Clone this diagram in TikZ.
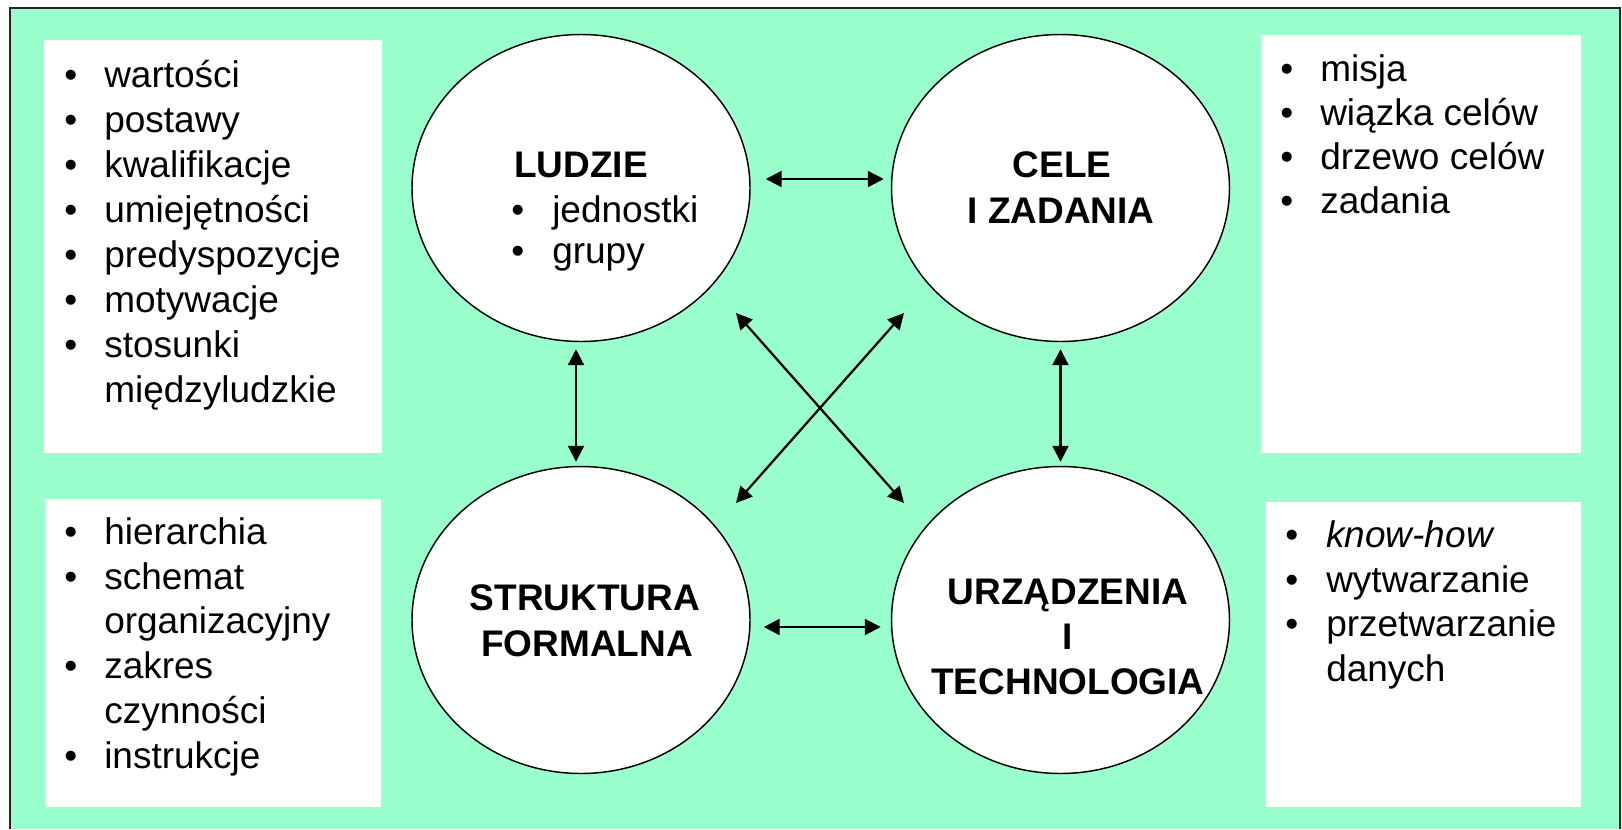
\documentclass[tikz,border=0pt]{standalone}
\usepackage{fontspec}
\setmainfont{Liberation Sans}
\usetikzlibrary{shapes.geometric,arrows.meta,calc}
\definecolor{mint}{RGB}{153,255,204}
\begin{document}
\begin{tikzpicture}[x=0.75pt,y=-0.75pt,
  oval/.style={ellipse,draw,line width=1.1pt,fill=white,minimum width=253.5pt,minimum height=230.25pt,inner sep=0pt},
  panel/.style={fill=white},
  txt/.style={anchor=base west,inner sep=0pt,font=\fontsize{27.75}{33}\selectfont},
  ctxt/.style={anchor=base,inner sep=0pt,font=\fontsize{27.75}{33}\selectfont\bfseries},
  arr/.style={line width=1.7pt,{Triangle[length=12pt,width=12pt]}-{Triangle[length=12pt,width=12pt]}}]
\useasboundingbox (0,0) rectangle (1622,829);
% background frame
\fill[mint] (10,8) rectangle (1621,829);
\draw[line width=1.6pt,draw=black!85] (10,829) -- (10,8) -- (1620,8) -- (1620,829);
% white panels
\fill[panel] (44,40) rectangle (382,453);
\fill[panel] (1261,35) rectangle (1581,453);
\fill[panel] (45,499) rectangle (381,807);
\fill[panel] (1266,502) rectangle (1581,807);
% ellipses
\node[oval] (L) at (581,188) {};
\node[oval] (C) at (1060.5,188) {};
\node[oval] (S) at (581,620) {};
\node[oval] (U) at (1060.5,620) {};
% ellipse texts
\node[txt,font=\fontsize{27.75}{33}\selectfont\bfseries] (Lt) at (514,177) {LUDZIE};
\node[txt] (Lb1) at (511,222) {•};
\node[txt] (Lj) at (552,222) {jednostki};
\node[txt] (Lb2) at (511,263) {•};
\node[txt] (Lg) at (552,263) {grupy};
\node[ctxt] (Ct1) at (1062,177) {CELE};
\node[ctxt] (Ct2) at (1061,223) {I ZADANIA};
\node[ctxt] (St1) at (585,610) {STRUKTURA};
\node[ctxt] (St2) at (587,656) {FORMALNA};
\node[ctxt] (Ut1) at (1068,604) {URZĄDZENIA};
\node[ctxt] (Ut2) at (1068,649) {I};
\node[ctxt] (Ut3) at (1068,694) {TECHNOLOGIA};
% connectors
\draw[arr] ($(L.east)+(15,-9)$) -- ($(C.west)+(-7,-9)$);
\draw[arr] ($(S.east)+(13,7)$) -- ($(U.west)+(-10,7)$);
\draw[arr] ($(L.south)+(-5,7)$) -- ($(S.north)+(-5,-4)$);
\draw[arr] ($(C.south)+(0,7)$) -- ($(U.north)+(0,-4)$);
\draw[arr] ($(L.center)+(155,125)$) -- ($(U.center)+(-156.5,-117)$);
\draw[arr] ($(C.center)+(-156.5,125)$) -- ($(S.center)+(155,-117)$);
% top-left list
\node[txt] (a1b) at (64,87) {•};  \node[txt] (a1) at (104,87) {wartości};
\node[txt] (a2b) at (64,132) {•}; \node[txt] (a2) at (104,132) {postawy};
\node[txt] (a3b) at (64,177) {•}; \node[txt] (a3) at (104,177) {kwalifikacje};
\node[txt] (a4b) at (64,222) {•}; \node[txt] (a4) at (104,222) {umiejętności};
\node[txt] (a5b) at (64,267) {•}; \node[txt] (a5) at (104,267) {predyspozycje};
\node[txt] (a6b) at (64,312) {•}; \node[txt] (a6) at (104,312) {motywacje};
\node[txt] (a7b) at (64,357) {•}; \node[txt] (a7) at (104,357) {stosunki};
\node[txt] (a8) at (104,402) {międzyludzkie};
% top-right list
\node[txt] (b1b) at (1280,81) {•};  \node[txt] (b1) at (1320,81) {misja};
\node[txt] (b2b) at (1280,125) {•}; \node[txt] (b2) at (1320,125) {wiązka celów};
\node[txt] (b3b) at (1280,169) {•}; \node[txt] (b3) at (1320,169) {drzewo celów};
\node[txt] (b4b) at (1280,213) {•}; \node[txt] (b4) at (1320,213) {zadania};
% bottom-left list
\node[txt] (c1b) at (64,544) {•}; \node[txt] (c1) at (104,544) {hierarchia};
\node[txt] (c2b) at (64,589) {•}; \node[txt] (c2) at (104,589) {schemat};
\node[txt] (c3) at (104,633) {organizacyjny};
\node[txt] (c4b) at (64,678) {•}; \node[txt] (c4) at (104,678) {zakres};
\node[txt] (c5) at (104,723) {czynności};
\node[txt] (c6b) at (64,768) {•}; \node[txt] (c6) at (104,768) {instrukcje};
% bottom-right list
\node[txt] (d1b) at (1285,547) {•}; \node[txt,font=\fontsize{27.75}{33}\selectfont\itshape] (d1) at (1326,547) {know-how};
\node[txt] (d2b) at (1285,592) {•}; \node[txt] (d2) at (1326,592) {wytwarzanie};
\node[txt] (d3b) at (1285,636) {•}; \node[txt] (d3) at (1326,636) {przetwarzanie};
\node[txt] (d4) at (1326,681) {danych};
\end{tikzpicture}
\end{document}
